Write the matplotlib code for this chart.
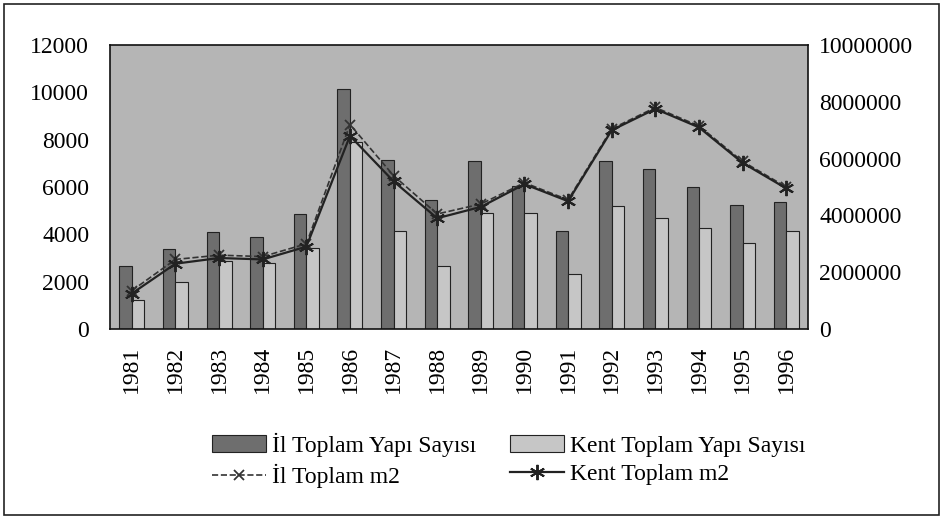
import numpy as np
import matplotlib
matplotlib.use('Agg')
import matplotlib.pyplot as plt
from matplotlib.patches import Rectangle

years = ['1981', '1982', '1983', '1984', '1985', '1986', '1987', '1988',
         '1989', '1990', '1991', '1992', '1993', '1994', '1995', '1996']

# building counts (left axis)
il_yapi = [2680, 3360, 4100, 3900, 4880, 10130, 7150, 5450,
           7080, 6060, 4140, 7080, 6770, 6010, 5230, 5350]
kent_yapi = [1240, 1990, 2860, 2800, 3430, 7900, 4140, 2650,
             4920, 4920, 2340, 5200, 4710, 4280, 3620, 4140]

# floor area m2 (right axis)
il_m2 = [1350000, 2450000, 2600000, 2550000, 3000000, 7200000, 5400000, 4050000,
         4400000, 5150000, 4550000, 7050000, 7800000, 7150000, 5900000, 5000000]
kent_m2 = [1250000, 2300000, 2500000, 2450000, 2900000, 6800000, 5200000, 3900000,
           4300000, 5100000, 4500000, 7000000, 7750000, 7100000, 5850000, 4950000]

plt.rcParams['font.family'] = ['Liberation Serif', 'DejaVu Serif']

fig = plt.figure(figsize=(9.42, 5.16), dpi=100)
ax = fig.add_axes([0.1168, 0.3624, 0.741, 0.5504])
ax.set_facecolor('#b5b5b5')

x = np.arange(len(years))
w = 0.286
b1 = ax.bar(x - w / 2, il_yapi, w, color='#6e6e6e', edgecolor='#222222', linewidth=0.8,
            label='İl Toplam Yapı Sayısı', zorder=2)
b2 = ax.bar(x + w / 2, kent_yapi, w, color='#c6c6c6', edgecolor='#222222', linewidth=0.8,
            label='Kent Toplam Yapı Sayısı', zorder=2)
ax.set_ylim(0, 12000)
ax.set_yticks(range(0, 12001, 2000))
ax.set_xlim(-0.5, len(years) - 0.5)
ax.set_xticks(x)
ax.set_xticklabels(years, rotation=90)
ax.tick_params(axis='both', length=0, labelsize=17)
ax.tick_params(axis='y', pad=15)
ax.tick_params(axis='x', pad=12)
for s in ax.spines.values():
    s.set_color('#111111')
    s.set_linewidth(1.2)

ax2 = ax.twinx()
l1, = ax2.plot(x, il_m2, color='#333333', linestyle='--', linewidth=1.2, marker='x',
               markersize=7, markeredgewidth=1.3, label='İl Toplam m2', zorder=3)
l2, = ax2.plot(x, kent_m2, color='#222222', linestyle='-', linewidth=1.6, marker=(6, 2, 0),
               markersize=11, markeredgewidth=1.4, label='Kent Toplam m2', zorder=3)
ax2.set_ylim(0, 10000000)
ax2.set_yticks(range(0, 10000001, 2000000))
ax2.set_yticklabels([str(v) for v in range(0, 10000001, 2000000)])
ax2.tick_params(axis='y', length=0, labelsize=17, pad=8)
for s in ax2.spines.values():
    s.set_visible(False)

fig.legend([b1, l1, b2, l2],
           ['İl Toplam Yapı Sayısı', 'İl Toplam m2', 'Kent Toplam Yapı Sayısı', 'Kent Toplam m2'],
           ncol=2, loc='center', bbox_to_anchor=(0.54, 0.108), frameon=False,
           fontsize=17, handlelength=2.3, handletextpad=0.25, columnspacing=1.4,
           labelspacing=0.3)

# outer frame of the chart
fig.patches.append(Rectangle((4 / 942, 1 / 516), 935 / 942, 511 / 516, transform=fig.transFigure,
                             fill=False, edgecolor='#222222', linewidth=1.2))

fig.savefig('out.png', dpi=100)
